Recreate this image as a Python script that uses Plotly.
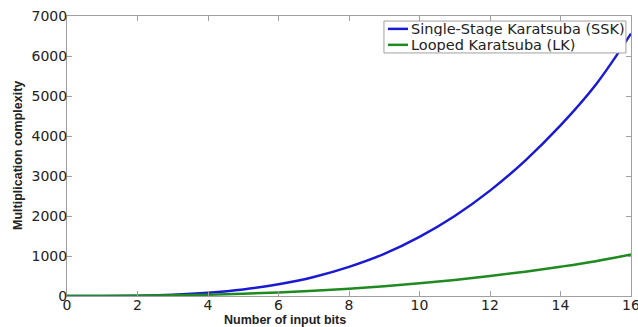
import plotly.graph_objects as go

bits = list(range(0, 17))
ssk = [0, 1, 9, 32, 81, 163, 292, 475, 729, 1054, 1479, 2001, 2634, 3386, 4264, 5282, 6561]
lk = [0, 1, 6, 16, 32, 56, 88, 130, 181, 243, 316, 401, 499, 609, 733, 871, 1040]

x_ticks = list(range(0, 17, 2))
y_ticks = list(range(0, 7001, 1000))

series_names = ["Single-Stage Karatsuba (SSK)", "Looped Karatsuba (LK)"]
series_colors = ["#1a1ad2", "#1f8a1f"]
x_title = "Number of input bits"
y_title = "Multiplication complexity"

fig = go.Figure()
for name, vals, col in zip(series_names, [ssk, lk], series_colors):
    fig.add_trace(go.Scatter(x=bits, y=vals, mode="lines", name=name,
                             line=dict(color=col, width=2.5, shape="spline")))

axis_common = dict(showline=True, linecolor="#a0a0a0", linewidth=1, mirror="ticks", ticks="inside",
                   tickcolor="#a0a0a0", ticklen=5, showgrid=False, zeroline=False, automargin=False,
                   ticklabeloverflow="allow",
                   tickfont=dict(family="DejaVu Sans", size=14, color="#222"))

title_font = dict(family="Liberation Sans, Arial", size=12.5, color="#222")
legend_font = dict(family="DejaVu Sans", size=14.5, color="#222")

# custom legend (paper coordinates)
shapes = [dict(type="rect", xref="paper", yref="paper", x0=0.562, x1=0.991, y0=0.868, y1=0.982,
               fillcolor="white", line=dict(color="#a0a0a0", width=1), layer="above")]
annotations = []
row_y = [0.954, 0.897]
for name, col, yy in zip(series_names, series_colors, row_y):
    shapes.append(dict(type="line", xref="paper", yref="paper", x0=0.569, x1=0.6046, y0=yy, y1=yy,
                       line=dict(color=col, width=2.5), layer="above"))
    annotations.append(dict(text=name, xref="paper", yref="paper", x=0.606, y=yy, xanchor="left",
                            yanchor="middle", showarrow=False, font=legend_font, height=15,
                            valign="middle"))

annotations += [
    dict(text="<b>" + x_title + "</b>", xref="paper", yref="paper", x=0.3865, y=0,
         yshift=-24, xanchor="center", yanchor="middle", showarrow=False, font=title_font),
    dict(text="<b>" + y_title + "</b>", xref="paper", yref="paper", x=0, y=0.5,
         xshift=-49, xanchor="center", yanchor="middle", textangle=-90, showarrow=False,
         font=title_font),
]

fig.update_layout(
    width=638, height=327,
    margin=dict(l=67, r=7, t=16, b=31),
    paper_bgcolor="white", plot_bgcolor="white",
    showlegend=False,
    xaxis=dict(range=[0, 16], tickvals=x_ticks, ticklabelstandoff=-4, **axis_common),
    yaxis=dict(range=[0, 7000], tickvals=y_ticks, ticklabelstandoff=-4, **axis_common),
    shapes=shapes,
    annotations=annotations,
)

fig.write_html("out.html", config={"displayModeBar": False},
               post_script="document.body.style.margin='0';document.body.style.overflow='hidden';")
